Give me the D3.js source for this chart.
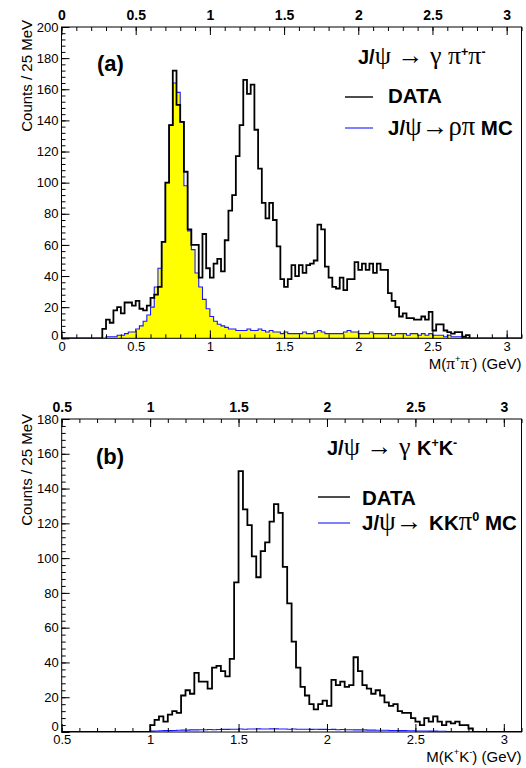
<!DOCTYPE html>
<html><head><meta charset="utf-8">
<script src="https://cdn.jsdelivr.net/npm/d3@7"></script>
<style>body{margin:0;background:#fff}text{white-space:pre}</style>
</head><body>
<svg id="c" width="526" height="768"></svg>
<script>
// ---------------- DATA ----------------
const binWidth = 0.025; // 25 MeV bins
// Panel (a): J/psi -> gamma pi+ pi-, bins from 0 to 3.1 GeV
const dataPiPi = [
  0,0,0,0,0,0,0,0,0,0,
  0,6,12,10,18,20,16,23,23,21,
  24,19,18,21,26,28,33,62,100,137,
  172,150,139,107,70,60,60,39,67,45,
  39,48,51,43,63,82,92,117,137,166,
  157,163,134,109,87,77,87,76,59,38,
  33,38,47,40,47,42,47,48,50,73,
  70,46,39,33,32,39,31,38,38,49,
  44,48,44,48,42,48,44,44,29,24,
  20,14,16,13,13,12,12,14,12,17,
  5,9,9,5,4,3,4,4,1,2,
  0,0,0,0,0,0,0,0,0,0,
  0,0,0,0
];
const mcPiPi = [
  0,0,0,0,0,0,0,0,0,0,
  0,0,1,1,1,2,2,3,4,4,
  6,8,11,15,20,33,45,62,100,137,
  164,158,139,98,69,57,42,33,25,19,
  14,11,9,8,7,6,6,5,5,5,
  6,5,5,6,5,4,5,4,4,3,
  4,3,3,3,3,4,3,3,4,5,
  4,3,3,3,3,3,4,5,4,4,
  3,3,3,4,3,3,3,3,3,2,
  3,3,3,2,3,3,2,3,2,3,
  2,2,2,1,2,1,1,1,1,0.5,
  0,0,0,0,0,0,0,0,0,0,
  0,0,0,0
];
// Panel (b): J/psi -> gamma K+ K-, bins from 0.5 to 3.1 GeV
const dataKK = [
  0,0,0,0,0,0,0,0,0,0,
  0,0,0,0,0,0,0,0,0,0,
  4,7,9,6,10,12,11,21,24,22,
  34,29,29,25,37,38,35,32,42,86,
  150,128,119,101,89,104,109,121,131,126,
  95,74,52,37,26,21,16,13,16,18,
  15,30,27,29,26,27,43,35,27,25,
  22,24,21,17,15,16,12,11,11,8,
  6,4,8,6,9,6,4,6,5,6,
  4,4,2,0,0,0,0,0,0,0,
  0,0,0,0
];
const mcKK = [
  0,0,0,0,0,0,0,0,0,0,
  0,0,0,0,0,0,0,0,0,0,
  0.5,0.6,0.7,0.8,0.8,0.9,1.0,1.1,1.1,1.2,
  1.2,1.3,1.3,1.4,1.3,1.4,1.5,1.5,1.6,1.6,
  1.7,1.6,1.7,1.7,1.8,1.7,1.7,1.8,1.8,1.7,
  1.7,1.6,1.7,1.6,1.6,1.6,1.5,1.6,1.5,1.5,
  1.4,1.5,1.3,1.4,1.3,1.3,1.2,1.2,1.2,1.1,
  1.1,1.0,1.0,1.0,0.9,0.9,0.8,0.8,0.7,0.7,
  0.6,0.6,0.6,0.5,0.5,0.4,0.4,0.3,0.3,0.3,
  0.2,0.2,0.1,0,0,0,0,0,0,0,
  0,0,0,0
];
const xTicksA = [0, 0.5, 1, 1.5, 2, 2.5, 3];
const xTicksB = [0.5, 1, 1.5, 2, 2.5, 3];
const yTicksA = [0,20,40,60,80,100,120,140,160,180,200];
const yTicksB = [0,20,40,60,80,100,120,140,160,180];
const yTitle = "Counts / 25 MeV";

// ---------------- DRAW ----------------
const SANS = "'Liberation Sans', Arial, sans-serif";
const SERIF = "'Liberation Serif', 'DejaVu Serif', serif";
const svg = d3.select("#c");

function richText(g, x, y, size, parts, anchor) {
  const t = g.append("text").attr("x", x).attr("y", y).attr("font-size", size)
    .attr("text-anchor", anchor || "start").attr("fill", "#000");
  let shift = 0;
  parts.forEach(p => {
    const s = t.append("tspan").text(p.t)
      .attr("font-family", p.serif ? SERIF : SANS)
      .attr("font-weight", p.b ? "bold" : "normal");
    const target = p.sup ? -size * 0.42 : 0;
    if (target !== shift) { s.attr("dy", target - shift); shift = target; }
    if (p.sup) s.attr("font-size", size * 0.62);
    else if (p.m) s.attr("font-size", size * p.m);
  });
  return t;
}

function stepPoints(values, lo) {
  const pts = [{x: lo, v: 0}];
  values.forEach((v, i) => {
    const x0 = lo + i * binWidth;
    pts.push({x: x0, v: v});
    pts.push({x: x0 + binWidth, v: v});
  });
  pts.push({x: lo + values.length * binWidth, v: 0});
  return pts;
}

function panel(cfg) {
  const g = svg.append("g");
  const x = d3.scaleLinear().domain(cfg.xDomain).range([cfg.left, cfg.right]);
  const y = d3.scaleLinear().domain(cfg.yDomain).range([cfg.bottom, cfg.top]);
  const clipId = "clip" + cfg.id;
  svg.append("clipPath").attr("id", clipId).append("rect")
    .attr("x", cfg.left).attr("y", cfg.top - 1)
    .attr("width", cfg.right - cfg.left).attr("height", cfg.bottom - cfg.top + 1);
  const plot = g.append("g").attr("clip-path", `url(#${clipId})`);

  const mcPts = stepPoints(cfg.mc, cfg.xDomain[0]);
  const dPts = stepPoints(cfg.data, cfg.xDomain[0]);
  if (cfg.fill) {
    plot.append("path").datum(mcPts)
      .attr("d", d3.area().x(d => x(d.x)).y0(y(0)).y1(d => y(d.v)))
      .attr("fill", "#ffff00").attr("stroke", "none");
  }
  plot.append("path").datum(mcPts)
    .attr("d", d3.line().x(d => x(d.x)).y(d => y(d.v)))
    .attr("fill", "none").attr("stroke", "#1a1aff").attr("stroke-width", 1.1);
  plot.append("path").datum(dPts)
    .attr("d", d3.line().x(d => x(d.x)).y(d => y(d.v)))
    .attr("fill", "none").attr("stroke", "#000").attr("stroke-width", 1.8);

  const minorX = d3.range(Math.ceil(cfg.xDomain[0] * 10), Math.floor(cfg.xDomain[1] * 10 + 0.01) + 1).map(d => d / 10);
  const minorY = d3.range(cfg.yDomain[0], cfg.yDomain[1] + 0.01, 4);

  // bottom axis
  const gb = g.append("g").attr("transform", `translate(0,${cfg.bottom})`);
  gb.call(d3.axisBottom(x).tickValues(minorX).tickSize(-4).tickFormat(""));
  gb.append("g").call(d3.axisBottom(x).tickValues(cfg.xTicks).tickSize(-8).tickPadding(3).tickFormat(d3.format("~g")));
  // top axis
  const gt = g.append("g").attr("transform", `translate(0,${cfg.top})`);
  gt.call(d3.axisTop(x).tickValues(minorX).tickSize(-4).tickFormat(""));
  gt.append("g").call(d3.axisTop(x).tickValues(cfg.xTicks).tickSize(-8).tickPadding(7).tickFormat(d3.format("~g")));
  // left axis
  const gl = g.append("g").attr("transform", `translate(${cfg.left},0)`);
  gl.call(d3.axisLeft(y).tickValues(minorY).tickSize(-4).tickFormat(""));
  const glMaj = gl.append("g").call(d3.axisLeft(y).tickValues(cfg.yTicks).tickSize(-8).tickPadding(3));

  g.selectAll(".domain").remove();
  g.selectAll(".tick line").attr("stroke", "#000").attr("stroke-width", 1);
  g.selectAll(".tick text").attr("font-family", SANS).attr("font-size", 13).attr("fill", "#000");
  gt.selectAll(".tick text").attr("font-weight", "bold").attr("font-size", 14).attr("dy", "0");
  // zero label sits just above the x-axis labels in the corner
  glMaj.selectAll(".tick text").filter(d => d === 0).attr("dy", cfg.zeroDy);

  // frame
  g.append("rect").attr("x", cfg.left).attr("y", cfg.top)
    .attr("width", cfg.right - cfg.left).attr("height", cfg.bottom - cfg.top)
    .attr("fill", "none").attr("stroke", "#000").attr("stroke-width", 1);

  // y title
  g.append("text").attr("transform", `translate(${cfg.yTitleX},${cfg.yTitleY}) rotate(-90)`)
    .attr("text-anchor", "end").attr("font-family", SANS).attr("font-size", 15).text(yTitle);
  // x title
  richText(g, cfg.right, cfg.xTitleY, 15, cfg.xTitle, "end");
  // panel label
  g.append("text").attr("x", cfg.labelX).attr("y", cfg.labelY).attr("font-family", SANS)
    .attr("font-weight", "bold").attr("font-size", 22).text(cfg.label);
  // reaction title
  richText(g, cfg.titleX, cfg.titleY, 20, cfg.title, "start");
  // legend
  const L = cfg.legend;
  g.append("line").attr("x1", L.x1).attr("x2", L.x2).attr("y1", L.y1).attr("y2", L.y1).attr("stroke", "#000").attr("stroke-width", 1.4);
  g.append("line").attr("x1", L.x1).attr("x2", L.x2).attr("y1", L.y2).attr("y2", L.y2).attr("stroke", "#4a4aff").attr("stroke-width", 1.4);
  richText(g, L.tx, L.t1y, 20.5, [{t: "DATA", b: true}], "start");
  richText(g, L.tx, L.t2y, 20.5, L.mcLabel, "start");
}

const SM = 1.3; // Greek glyphs drawn larger, as in the original symbol font
panel({
  id: "a", xDomain: [0, 3.1], yDomain: [0, 200], left: 61.5, right: 521.5, top: 27, bottom: 338.3,
  data: dataPiPi, mc: mcPiPi, fill: true, xTicks: xTicksA, yTicks: yTicksA, zeroDy: "0.12em",
  yTitleX: 32, yTitleY: 20, xTitleY: 368.5,
  xTitle: [{t: "M("}, {t: "π", serif: true, m: 1.15}, {t: "+", sup: true}, {t: "π", serif: true, m: 1.15}, {t: "-", sup: true}, {t: ") (GeV)"}],
  label: "(a)", labelX: 97, labelY: 71,
  titleX: 358, titleY: 64,
  title: [{t: "J/", b: true}, {t: "ψ → γ π", serif: true, m: SM}, {t: "+", sup: true, b: true}, {t: "π", serif: true, m: SM}, {t: "-", sup: true, b: true}],
  legend: {x1: 345, x2: 373, y1: 97, y2: 128, tx: 388, t1y: 103, t2y: 135,
    mcLabel: [{t: "J/", b: true}, {t: "ψ→ρπ", serif: true, m: SM}, {t: " MC", b: true}]}
});

panel({
  id: "b", xDomain: [0.5, 3.1], yDomain: [0, 180], left: 61.7, right: 521.5, top: 419, bottom: 732,
  data: dataKK, mc: mcKK, fill: false, xTicks: xTicksB, yTicks: yTicksB, zeroDy: "-0.08em",
  yTitleX: 32, yTitleY: 414, xTitleY: 761.5,
  xTitle: [{t: "M(K"}, {t: "+", sup: true}, {t: "K"}, {t: "-", sup: true}, {t: ") (GeV)"}],
  label: "(b)", labelX: 96, labelY: 464,
  titleX: 327, titleY: 455,
  title: [{t: "J/", b: true}, {t: "ψ → γ ", serif: true, m: SM}, {t: "K", b: true}, {t: "+", sup: true, b: true}, {t: "K", b: true}, {t: "-", sup: true, b: true}],
  legend: {x1: 318, x2: 350, y1: 497, y2: 523, tx: 362, t1y: 505, t2y: 530,
    mcLabel: [{t: "J/", b: true}, {t: "ψ→ ", serif: true, m: SM}, {t: "KK", b: true}, {t: "π", serif: true, m: SM}, {t: "0", sup: true, b: true}, {t: " MC", b: true}]}
});
</script>
</body></html>
